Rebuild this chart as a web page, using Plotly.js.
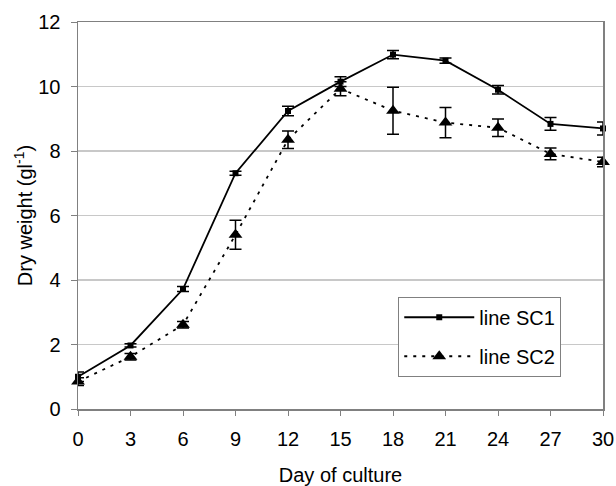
<!DOCTYPE html>
<html>
<head>
<meta charset="utf-8">
<script src="https://cdn.plot.ly/plotly-3.0.1.min.js"></script>
<style>html,body{margin:0;padding:0;background:#fff;}#chart{width:616px;height:486px;}</style>
</head>
<body>
<div id="chart"></div>
<script>
const days = [0, 3, 6, 9, 12, 15, 18, 21, 24, 27, 30];
const sc1 = [1.0, 1.97, 3.72, 7.31, 9.24, 10.15, 10.99, 10.8, 9.9, 8.84, 8.7];
const sc1Err = [0.15, 0.05, 0.08, 0.06, 0.15, 0.15, 0.13, 0.08, 0.13, 0.2, 0.2];
const sc2 = [0.85, 1.62, 2.61, 5.4, 8.35, 9.93, 9.25, 8.88, 8.72, 7.91, 7.66];
const sc2Err = [0.12, 0.1, 0.1, 0.45, 0.27, 0.22, 0.73, 0.47, 0.27, 0.18, 0.15];
const xTicks = [0, 3, 6, 9, 12, 15, 18, 21, 24, 27, 30];
const yTicks = [0, 2, 4, 6, 8, 10, 12];
const names = ["line SC1", "line SC2"];

const font = "Liberation Sans, Arial, sans-serif";

const traces = [
  {
    x: days, y: sc1, name: names[0], legendgroup: "a",
    type: "scatter", mode: "lines+markers",
    line: {color: "#000", width: 1.8},
    marker: {symbol: "square", size: 6, color: "#000"},
    error_y: {type: "data", array: sc1Err, visible: true, color: "#000", thickness: 1.5, width: 6},
    cliponaxis: false
  },
  {
    x: days, y: sc2, name: names[1], legendgroup: "b",
    type: "scatter", mode: "lines+markers",
    line: {color: "#000", width: 1.8, dash: "3px,6px"},
    marker: {symbol: "triangle-up", size: 12, color: "#000"},
    error_y: {type: "data", array: sc2Err, visible: true, color: "#000", thickness: 1.5, width: 6},
    cliponaxis: false
  }
];

const layout = {
  width: 616, height: 486,
  margin: {l: 78, r: 13, t: 22, b: 77},
  paper_bgcolor: "#fff", plot_bgcolor: "#fff",
  font: {family: font, size: 20, color: "#000"},
  showlegend: true,
  legend: {
    x: 0.61, y: 0.29, xanchor: "left", yanchor: "top",
    bordercolor: "#808080", borderwidth: 1, bgcolor: "#fff",
    font: {family: font, size: 20, color: "#000"},
    tracegroupgap: 10, itemwidth: 70, traceorder: "grouped"
  },
  xaxis: {
    range: [0, 30], tickvals: xTicks, ticktext: xTicks.map(String),
    showgrid: false, zeroline: false,
    showline: true, linecolor: "#808080", linewidth: 1.5, mirror: true,
    ticks: "outside", ticklen: 5, tickcolor: "#808080",
    ticklabelstandoff: 6,
    tickfont: {family: font, size: 20},
    title: {text: "Day of culture", font: {family: font, size: 20}, standoff: 20}
  },
  yaxis: {
    range: [0, 12], tickvals: yTicks, ticktext: yTicks.map(String),
    showgrid: true, gridcolor: "#c8c8c8", gridwidth: 1.5, zeroline: false,
    showline: true, linecolor: "#808080", linewidth: 1.5, mirror: true,
    ticks: "outside", ticklen: 6, tickcolor: "#808080",
    ticklabelstandoff: 6,
    tickfont: {family: font, size: 20},
    title: {text: "Dry weight (gl<sup>-1</sup>)", font: {family: font, size: 20}, standoff: 0}
  }
};

Plotly.newPlot("chart", traces, layout, {displayModeBar: false, staticPlot: true});
</script>
</body>
</html>
